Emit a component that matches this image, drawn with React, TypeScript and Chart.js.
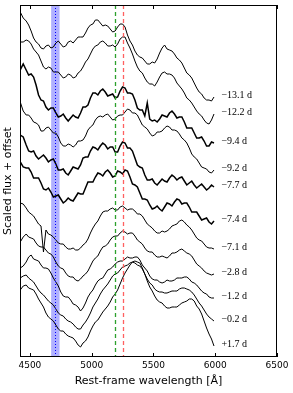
import { useEffect, useRef } from "react";
import { Chart, registerables } from "chart.js";

Chart.register(...registerables);

// Rest-frame wavelength samples [Å]
const WAVE = [4422, 4446, 4470, 4490, 4510, 4530, 4550, 4570, 4590, 4610, 4630, 4650, 4670, 4690, 4710, 4730, 4750, 4770, 4790, 4810, 4830, 4850, 4870, 4890, 4910, 4930, 4950, 4970, 4990, 5010, 5030, 5050, 5070, 5090, 5110, 5130, 5150, 5170, 5190, 5210, 5230, 5250, 5270, 5290, 5310, 5330, 5350, 5370, 5390, 5410, 5430, 5450, 5470, 5490, 5510, 5530, 5550, 5570, 5590, 5610, 5630, 5650, 5670, 5690, 5710, 5730, 5750, 5770, 5790, 5810, 5830, 5850, 5870, 5890, 5910, 5930, 5950, 5970, 5990];

// Scaled flux + offset for each epoch
const S_M13_1 = [34.5, 33.9, 33.6, 33.2, 32.6, 31.9, 31.5, 31.3, 30.9, 30.8, 31.1, 31.2, 30.9, 31.0, 31.4, 31.6, 31.3, 31.0, 31.1, 31.5, 31.6, 31.4, 31.7, 32.0, 32.0, 32.0, 32.4, 32.9, 33.2, 33.3, 33.7, 33.7, 33.4, 33.1, 33.2, 33.1, 32.8, 32.5, 32.6, 33.0, 33.3, 33.3, 33.0, 32.2, 31.6, 31.2, 30.6, 30.2, 30.0, 29.9, 29.6, 29.3, 29.3, 29.5, 29.4, 29.8, 30.4, 30.9, 31.2, 30.8, 30.7, 30.6, 30.3, 29.9, 29.7, 29.4, 28.9, 28.4, 28.2, 27.9, 27.4, 26.9, 26.5, 26.3, 25.9, 25.7, 25.7, 25.6, 26.0];
const S_M12_2 = [31.5, 31.5, 31.7, 31.6, 31.3, 30.8, 30.5, 30.2, 29.6, 29.0, 28.8, 29.0, 28.9, 28.5, 28.5, 28.5, 28.2, 27.9, 28.0, 28.3, 28.2, 27.9, 28.0, 28.4, 28.6, 29.0, 29.5, 29.8, 30.3, 30.8, 31.1, 31.2, 31.5, 31.6, 31.4, 31.1, 31.1, 31.2, 31.0, 31.3, 31.8, 32.0, 32.0, 31.4, 30.9, 30.3, 29.6, 29.0, 28.6, 28.4, 27.9, 27.5, 27.3, 27.3, 27.1, 27.5, 28.0, 28.4, 28.5, 28.3, 28.3, 28.2, 27.9, 27.4, 27.1, 26.8, 26.4, 25.9, 25.7, 25.4, 25.0, 24.6, 24.3, 24.1, 23.7, 23.4, 23.3, 23.7, 24.3];
const S_M9_4 = [28.7, 29.3, 28.7, 28.2, 28.3, 28.0, 27.2, 26.2, 25.7, 25.6, 25.0, 24.7, 24.9, 24.9, 24.4, 24.0, 24.1, 24.3, 23.9, 23.6, 23.9, 24.2, 24.0, 23.9, 24.4, 25.0, 25.0, 25.2, 25.9, 26.4, 26.4, 26.2, 26.6, 26.8, 26.5, 26.1, 26.2, 26.3, 25.9, 26.0, 26.6, 27.0, 26.9, 26.4, 26.4, 26.3, 25.7, 24.9, 24.7, 24.7, 24.1, 25.4, 23.8, 23.6, 23.7, 23.5, 23.8, 24.2, 24.1, 24.0, 24.4, 24.6, 24.3, 23.9, 24.0, 24.0, 23.5, 22.9, 22.9, 22.9, 22.4, 21.9, 21.9, 22.0, 21.6, 21.1, 21.1, 21.5, 21.4];
const S_M9_2 = [25.5, 24.6, 24.2, 24.2, 23.9, 23.5, 23.4, 23.2, 22.6, 22.6, 22.9, 23.0, 22.7, 22.4, 22.4, 22.0, 21.4, 21.1, 21.1, 21.3, 21.2, 21.0, 21.2, 21.6, 21.6, 21.7, 22.1, 22.7, 23.0, 23.2, 23.7, 24.0, 24.1, 24.0, 24.2, 24.3, 24.0, 23.7, 23.8, 24.1, 24.2, 24.2, 24.5, 24.8, 24.7, 24.4, 24.4, 24.2, 23.7, 23.2, 23.0, 22.8, 22.4, 22.1, 22.2, 22.5, 22.5, 22.6, 22.9, 23.1, 23.0, 22.7, 22.7, 22.6, 22.3, 21.9, 21.7, 21.4, 20.9, 20.3, 20.0, 19.8, 19.4, 19.0, 18.9, 18.8, 18.5, 18.4, 18.7];
const S_M7_7 = [22.2, 22.0, 21.2, 20.6, 20.5, 20.6, 20.1, 19.8, 20.0, 20.2, 19.9, 19.5, 19.7, 19.8, 19.3, 18.7, 18.7, 18.8, 18.4, 18.2, 18.6, 19.0, 18.9, 18.8, 19.2, 19.9, 20.0, 20.0, 20.6, 21.0, 20.9, 20.7, 21.1, 21.4, 21.2, 20.8, 21.0, 21.0, 20.5, 20.5, 21.1, 21.5, 21.4, 20.9, 20.9, 20.6, 19.9, 19.2, 19.0, 18.9, 18.2, 17.7, 17.7, 17.8, 17.4, 17.2, 17.5, 17.8, 17.6, 17.5, 17.9, 18.2, 18.0, 17.7, 17.9, 18.0, 17.6, 17.2, 17.4, 17.6, 17.2, 16.9, 17.1, 17.3, 17.0, 16.7, 16.9, 17.2, 17.0];
const S_M7_4 = [19.5, 19.0, 18.9, 18.9, 18.5, 17.9, 17.9, 17.9, 17.4, 16.8, 16.7, 16.9, 16.5, 16.0, 16.1, 16.2, 15.8, 15.4, 15.6, 15.9, 15.7, 15.6, 16.0, 16.4, 16.3, 16.3, 16.9, 17.5, 17.5, 17.5, 18.0, 18.4, 18.3, 18.1, 18.5, 18.7, 18.4, 18.0, 18.1, 18.6, 18.5, 18.3, 18.7, 18.6, 18.0, 17.3, 17.2, 17.0, 16.4, 15.8, 15.8, 15.7, 15.2, 14.8, 14.9, 15.1, 14.8, 14.6, 15.0, 15.4, 15.3, 15.1, 15.5, 15.8, 15.7, 15.3, 15.4, 15.4, 15.0, 14.5, 14.5, 14.5, 14.1, 13.7, 13.8, 13.9, 13.5, 13.3, 13.6];
const S_M7_1 = [15.4, 15.3, 14.9, 14.5, 14.3, 14.1, 13.7, 13.3, 13.1, 10.5, 12.7, 12.3, 12.2, 12.0, 11.7, 11.4, 11.3, 11.3, 11.0, 10.8, 10.8, 10.9, 10.7, 10.7, 10.9, 11.2, 11.4, 11.8, 12.4, 12.9, 13.3, 13.6, 14.1, 14.5, 14.6, 14.6, 14.8, 14.9, 14.7, 14.7, 15.0, 15.1, 14.9, 14.7, 14.8, 14.8, 14.6, 14.3, 14.3, 14.1, 13.7, 13.3, 13.1, 12.9, 12.6, 12.4, 12.4, 12.6, 12.5, 12.6, 12.8, 13.1, 13.2, 13.3, 13.6, 13.7, 13.5, 13.2, 13.0, 12.7, 12.3, 11.9, 11.7, 11.6, 11.3, 11.0, 10.9, 10.9, 10.8];
const S_M2_8 = [11.5, 12.0, 12.3, 12.0, 11.9, 11.8, 11.4, 11.1, 11.0, 11.0, 10.7, 10.4, 10.3, 10.0, 9.5, 9.1, 8.9, 8.8, 8.4, 8.1, 8.0, 8.0, 7.7, 7.6, 7.8, 8.1, 8.3, 8.6, 9.1, 9.6, 9.9, 10.1, 10.6, 11.0, 11.1, 11.3, 11.7, 12.0, 12.1, 12.1, 12.4, 12.6, 12.5, 12.3, 12.4, 12.4, 12.1, 11.7, 11.5, 11.3, 10.9, 10.6, 10.5, 10.5, 10.2, 10.0, 10.0, 10.1, 10.0, 9.9, 10.1, 10.4, 10.4, 10.5, 10.7, 10.8, 10.6, 10.4, 10.3, 10.1, 9.7, 9.3, 9.1, 8.9, 8.6, 8.4, 8.3, 8.2, 8.3];
const S_M1_2 = [8.9, 9.1, 9.5, 10.0, 10.2, 9.8, 9.7, 9.6, 9.2, 8.9, 8.9, 8.8, 8.4, 7.9, 7.5, 7.1, 6.5, 6.1, 6.0, 6.0, 5.7, 5.3, 5.2, 5.0, 4.6, 4.9, 5.4, 6.0, 6.4, 6.7, 7.2, 7.6, 7.8, 7.9, 8.3, 8.7, 8.8, 9.0, 9.3, 9.5, 9.6, 9.6, 9.8, 10.0, 9.9, 9.9, 10.0, 10.0, 9.7, 9.2, 8.9, 8.6, 8.1, 7.8, 7.7, 7.7, 7.5, 7.4, 7.5, 7.7, 7.6, 7.6, 7.7, 7.9, 7.9, 7.9, 8.0, 8.0, 7.8, 7.5, 7.4, 7.2, 6.9, 6.6, 6.4, 6.3, 6.0, 5.9, 5.9];
const S_M0_2 = [7.9, 8.1, 8.2, 7.9, 7.7, 7.5, 7.1, 6.7, 6.4, 6.2, 5.9, 5.6, 5.4, 5.2, 4.8, 4.4, 4.2, 4.1, 3.8, 3.6, 3.5, 3.3, 3.0, 2.8, 2.8, 3.2, 3.5, 3.9, 4.4, 5.0, 5.4, 5.8, 6.3, 6.7, 7.0, 7.3, 7.7, 8.1, 8.3, 8.4, 8.7, 9.0, 9.1, 9.2, 9.4, 9.5, 9.4, 9.2, 9.1, 8.8, 8.3, 7.8, 7.4, 7.2, 6.8, 6.6, 6.5, 6.5, 6.4, 6.4, 6.5, 6.6, 6.6, 6.6, 6.8, 6.9, 6.9, 6.8, 6.7, 6.5, 6.2, 5.8, 5.4, 5.1, 4.7, 4.3, 4.0, 3.8, 3.6];
const S_P1_7 = [6.7, 7.1, 7.2, 6.9, 6.8, 6.7, 6.3, 5.8, 5.4, 5.0, 4.4, 4.0, 3.8, 3.6, 3.2, 2.8, 2.6, 2.6, 2.3, 2.1, 2.0, 1.9, 1.6, 1.2, 1.0, 1.4, 1.6, 2.0, 2.6, 3.1, 3.5, 3.7, 4.1, 4.5, 4.8, 5.1, 5.5, 6.0, 6.3, 6.7, 7.3, 7.9, 8.4, 8.8, 9.2, 9.5, 9.6, 9.5, 9.4, 8.9, 8.3, 7.6, 7.0, 6.6, 6.1, 5.7, 5.5, 5.4, 5.1, 4.9, 4.9, 5.0, 5.0, 5.0, 5.2, 5.4, 5.5, 5.6, 5.8, 5.8, 5.6, 5.1, 4.8, 4.3, 3.6, 2.9, 2.3, 1.8, 1.1];

const SPECTRA = [S_M13_1, S_M12_2, S_M9_4, S_M9_2, S_M7_7, S_M7_4, S_M7_1, S_M2_8, S_M1_2, S_M0_2, S_P1_7];
const EPOCHS = ["\u221213.1 d", "\u221212.2 d", "\u22129.4 d", "\u22129.2 d", "\u22127.7 d", "\u22127.4 d", "\u22127.1 d", "\u22122.8 d", "\u22121.2 d", "\u22120.2 d", "+1.7 d"];
const HIGH_RES = ["\u22129.4 d", "\u22127.7 d", "\u22127.4 d"];

const XTICKS = [4500, 5000, 5500, 6000, 6500];
const X_MIN = 4420;
const X_MAX = 6500;
const Y_MIN = 0;
const Y_MAX = 35.2;

const HEII_BAND = [4672, 4740];
const HEII_LINE = 4702;
const GREEN_LINE = 5188;
const RED_LINE = 5254;

const overlay = {
  id: "overlay",
  beforeDatasetsDraw(chart: any) {
    const { ctx, chartArea: a, scales } = chart;
    const x = scales.x;
    ctx.save();
    ctx.fillStyle = "rgba(0,0,255,0.31)";
    const x0 = x.getPixelForValue(HEII_BAND[0]);
    const x1 = x.getPixelForValue(HEII_BAND[1]);
    ctx.fillRect(x0, a.top, x1 - x0, a.bottom - a.top);
    ctx.restore();
  },
  afterDatasetsDraw(chart: any) {
    const { ctx, chartArea: a, scales } = chart;
    const x = scales.x;
    const y = scales.y;
    ctx.save();
    const vline = (v: number, color: string, dash: number[], w: number) => {
      const px = Math.round(x.getPixelForValue(v)) + 0.5;
      ctx.beginPath();
      ctx.strokeStyle = color;
      ctx.lineWidth = w;
      ctx.setLineDash(dash);
      ctx.moveTo(px, a.top);
      ctx.lineTo(px, a.bottom);
      ctx.stroke();
    };
    vline(HEII_LINE, "#0000ff", [1, 2], 1);
    vline(GREEN_LINE, "#2ca02c", [4, 3], 1.3);
    vline(RED_LINE, "#ff6060", [4, 3], 1.3);
    ctx.setLineDash([]);

    // epoch labels at the red end of each spectrum
    ctx.fillStyle = "#000";
    ctx.font = "10px 'Liberation Serif'";
    ctx.textAlign = "left";
    ctx.textBaseline = "middle";
    SPECTRA.forEach((s, i) => {
      const lx = x.getPixelForValue(WAVE[WAVE.length - 1] + 60);
      const ly = y.getPixelForValue(s[s.length - 1] + 0.2);
      ctx.fillText(EPOCHS[i], lx, ly);
    });

    // frame
    ctx.strokeStyle = "#000";
    ctx.lineWidth = 1;
    ctx.strokeRect(a.left + 0.5, a.top + 0.5, a.right - a.left - 1, a.bottom - a.top - 1);

    // inward ticks top and bottom
    XTICKS.forEach((t) => {
      const px = Math.round(x.getPixelForValue(t)) + 0.5;
      ctx.beginPath();
      ctx.moveTo(px, a.bottom);
      ctx.lineTo(px, a.bottom - 4);
      ctx.moveTo(px, a.top);
      ctx.lineTo(px, a.top + 4);
      ctx.stroke();
    });
    ctx.restore();
  },
};

export default function App() {
  const ref = useRef<HTMLCanvasElement>(null);
  useEffect(() => {
    const datasets = SPECTRA.map((s, i) => ({
      label: EPOCHS[i],
      data: s.map((v, j) => ({ x: WAVE[j], y: v })),
      borderColor: "#000",
      borderWidth: HIGH_RES.includes(EPOCHS[i]) ? 1.5 : 1,
      pointRadius: 0,
      tension: 0,
      fill: false,
    }));
    const chart = new Chart(ref.current as HTMLCanvasElement, {
      type: "line",
      data: { datasets },
      options: {
        animation: false,
        responsive: false,
        devicePixelRatio: 1,
        layout: { padding: { top: 5, right: 16, left: 0, bottom: 0 } },
        plugins: { legend: { display: false }, tooltip: { enabled: false } },
        scales: {
          x: {
            type: "linear",
            min: X_MIN,
            max: X_MAX,
            afterBuildTicks: (s: any) => {
              s.ticks = XTICKS.map((v) => ({ value: v }));
            },
            afterFit: (s: any) => {
              s.height = 36;
            },
            grid: { display: false, drawTicks: false },
            border: { display: false },
            ticks: {
              color: "#000",
              font: { family: "'DejaVu Sans'", size: 9 },
              padding: 3,
              maxRotation: 0,
              autoSkip: false,
              callback: (v: any) => String(v),
            },
            title: {
              display: true,
              text: "Rest-frame wavelength [Å]",
              color: "#000",
              font: { family: "'DejaVu Sans'", size: 11 },
              padding: { top: 0, bottom: 5 },
            },
          },
          y: {
            type: "linear",
            min: Y_MIN,
            max: Y_MAX,
            afterFit: (s: any) => {
              s.width = 20;
            },
            grid: { display: false, drawTicks: false },
            border: { display: false },
            ticks: { display: false },
            title: {
              display: true,
              text: "Scaled flux + offset",
              color: "#000",
              font: { family: "'DejaVu Sans'", size: 11 },
              padding: { top: 2, bottom: 0 },
            },
          },
        },
      },
      plugins: [overlay],
    } as any);
    return () => chart.destroy();
  }, []);
  return (
    <div style={{ position: "absolute", left: 0, top: 0, width: 293, height: 393, background: "#fff" }}>
      <canvas ref={ref} width={293} height={393} style={{ display: "block" }} />
    </div>
  );
}
